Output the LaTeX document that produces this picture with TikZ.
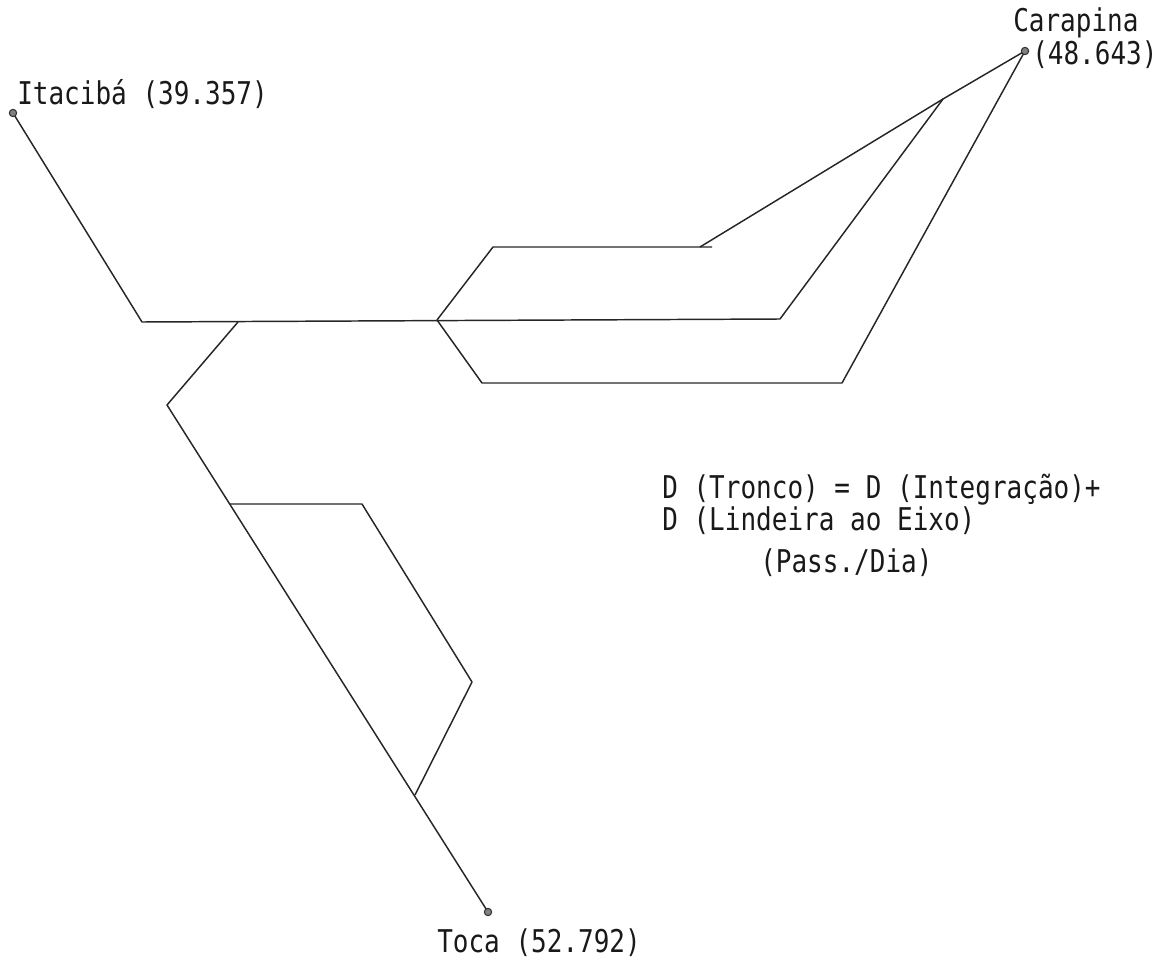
\documentclass[tikz,border=0pt]{standalone}
\usepackage{fontspec}
\setmonofont[FakeStretch=0.83]{DejaVu Sans Mono}
\usepackage{tikz}

\begin{document}
\begin{tikzpicture}[x=0.75pt, y=-0.75pt, road/.style={line width=1.1pt, draw=black!85, line join=round}, endpt/.style={circle, draw=black!80, fill=black!50, line width=0.8pt, inner sep=0pt, minimum size=5.5pt}, lbl/.style={font=\ttfamily\fontsize{23.5}{26}\selectfont, text=black!90, inner sep=0pt, anchor=base west}]
  \useasboundingbox (0,0) rectangle (1171,963);
  % junctions
  \coordinate (ita) at (13,113);
  \coordinate (car) at (1025,51);
  \coordinate (toc) at (488,912);
  \coordinate (a1) at (142,322);
  \coordinate (a2) at (238,322);
  \coordinate (a3) at (437,320);
  \coordinate (a4) at (780,319);
  \coordinate (b1) at (167,405);
  \coordinate (c1) at (229,504);
  \coordinate (c2) at (362,504);
  \coordinate (c3) at (472,682);
  \coordinate (c4) at (415,795);
  \coordinate (u1) at (493,247);
  \coordinate (u2) at (712,247);
  \coordinate (u3) at (700,247);
  \coordinate (m) at (943,99);
  \coordinate (l1) at (482,383);
  \coordinate (l2) at (842,383);
  % lines
  \draw[road] (ita) -- (a1) -- (a4) -- (m) -- (car);
  \draw[road] (a2) -- (b1) -- (toc);
  \draw[road] (c1) -- (c2) -- (c3) -- (c4);
  \draw[road] (a3) -- (u1) -- (u2);
  \draw[road] (u3) -- (m);
  \draw[road] (a3) -- (l1) -- (l2) -- (car);
  \node[endpt] (itaPt) at (ita) {};
  \node[endpt] (carPt) at (car) {};
  \node[endpt] (tocPt) at (toc) {};
  % labels
  \node[lbl] (itaLbl) at (17,105) {Itacibá (39.357)};
  \node[lbl] (carLbl) at (1013,32) {Carapina};
  \node[lbl] (carVal) at (1032,65) {(48.643)};
  \node[lbl] (tocLbl) at (437,952) {Toca (52.792)};
  \node[lbl] (eqA) at (662,498) {D (Tronco) = D (Integração)+};
  \node[lbl] (eqB) at (662,530) {D (Lindeira ao Eixo)};
  \node[lbl] (eqC) at (760,572) {(Pass./Dia)};
\end{tikzpicture}
\end{document}
